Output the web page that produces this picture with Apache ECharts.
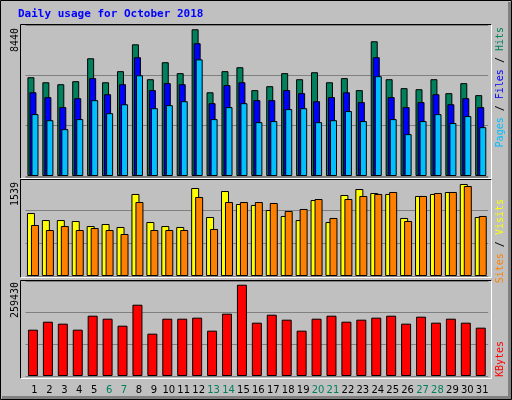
<!DOCTYPE html>
<html><head><meta charset="utf-8">
<script src="https://cdn.jsdelivr.net/npm/echarts@6/dist/echarts.min.js"></script>
<style>html,body{margin:0;padding:0;background:#c0c0c0}#c{width:512px;height:400px}</style>
</head><body><div id="c"></div>
<script>
const days = ['1','2','3','4','5','6','7','8','9','10','11','12','13','14','15','16','17','18','19','20','21','22','23','24','25','26','27','28','29','30','31'];
const weekend = ['6','7','13','14','20','21','27','28'];
const hits = [5520,5240,5130,5300,6580,5240,5860,7360,5410,6360,5750,8200,4680,5860,6080,4800,5020,5750,5410,5800,5240,5470,4800,7530,5410,4910,4850,5410,4630,5190,4520];
const files = [4680,4410,3850,4350,5470,4570,5130,6640,4800,5190,5130,7420,4070,5080,5240,4240,4240,4800,4630,4180,4410,4680,4130,6640,4410,3850,4130,4570,4010,4350,3850];
const pages = [3460,3120,2620,3180,4240,3510,4010,5630,3790,3960,4180,6520,3180,3850,4070,3010,3070,3740,3790,3010,3120,3630,3070,5580,3180,2340,3070,3460,2960,3350,2730];
const visits = [979,870,870,855,777,808,762,1275,839,777,762,1368,917,1321,1119,1104,1026,933,870,1181,839,1259,1352,1290,1275,902,1244,1275,1306,1430,917];
const sites = [793,715,777,715,746,715,653,1150,715,715,715,1228,731,1150,1150,1150,1135,1010,1042,1197,902,1197,1244,1275,1306,855,1244,1290,1306,1399,933];
const kbytes = [126500,148300,142900,126500,164700,156500,137400,194700,115600,156500,156500,159300,123800,170200,249300,145600,167400,153800,123800,156500,164700,148300,153800,159300,164700,142900,162000,145600,156500,145600,132000];
const maxLabels = ['8440','1539','259430'];
const axisMax = [8440, 1539, 259430];

const chart = echarts.init(document.getElementById('c'));
const L = 25.5, W = 462.7;
const grids = [{left:L,width:W,top:25,height:151},{left:L,width:W,top:177,height:99},{left:L,width:W,top:281,height:95}];
const mono = 'DejaVu Sans Mono';
function xa(i){
  return {type:'category',data:days,gridIndex:i,axisLine:{show:false},axisTick:{show:false},
    axisLabel:{show:i===2,interval:0,fontFamily:'DejaVu Sans',fontSize:10,margin:9,padding:[0,0,0,3],
      color:(v)=>weekend.includes(v)?'#00805c':'#000'}};
}
function ya(i){
  return {type:'value',gridIndex:i,min:0,max:axisMax[i],interval:axisMax[i]/3,axisLabel:{show:false},
    axisLine:{show:false},axisTick:{show:false},splitLine:{show:true,lineStyle:{color:'#808080',width:1}}};
}
function bar(name,data,color,gi,w,gap){
  return {name,type:'bar',data,xAxisIndex:gi,yAxisIndex:gi,barWidth:w,barGap:gap,animation:false,
    itemStyle:{color,borderColor:'#000',borderWidth:1}};
}
function frame(x,y,w,h){
  return [
    {type:'line',shape:{x1:x,y1:y,x2:x+w,y2:y},style:{stroke:'#000',lineWidth:1}},
    {type:'line',shape:{x1:x,y1:y,x2:x,y2:y+h},style:{stroke:'#000',lineWidth:1}},
    {type:'line',shape:{x1:x,y1:y+h,x2:x+w,y2:y+h},style:{stroke:'#fff',lineWidth:1}},
    {type:'line',shape:{x1:x+w,y1:y,x2:x+w,y2:y+h},style:{stroke:'#fff',lineWidth:1}}
  ];
}
function vtext(x,y,text,rich,color){
  return {type:'text',x,y,rotation:Math.PI/2,style:{text,fill:color||'#000',font:'10px '+mono,align:'right',verticalAlign:'middle',rich}};
}
const graphic = [
  {type:'rect',shape:{x:0.5,y:0.5,width:511,height:399},style:{fill:'none',stroke:'#000',lineWidth:1},z:-1},
  {type:'line',shape:{x1:2,y1:397.5,x2:511,y2:397.5},style:{stroke:'#808080',lineWidth:3}},
  {type:'line',shape:{x1:509.5,y1:2,x2:509.5,y2:399},style:{stroke:'#808080',lineWidth:3}},
  {type:'text',x:18,y:14,style:{text:'Daily usage for October 2018',fill:'#0000ff',font:'bold 11px '+mono,verticalAlign:'middle'}},
  ...frame(20.5,24.5,471,154),...frame(20.5,179.5,471,98),...frame(20.5,280.5,471,98),
  vtext(15,28,maxLabels[0]),vtext(15,182,maxLabels[1]),vtext(15,282,maxLabels[2]),
  vtext(500,27,'{p|Pages} / {f|Files} / {h|Hits}',{p:{fill:'#00c0ff',font:'10px '+mono},f:{fill:'#0000ff',font:'10px '+mono},h:{fill:'#00805c',font:'10px '+mono}}),
  vtext(500,199,'{s|Sites} / {v|Visits}',{s:{fill:'#ff8000',font:'10px '+mono},v:{fill:'#ffff00',font:'10px '+mono}}),
  vtext(500,341,'KBytes',null,'#ff0000')
];
chart.setOption({
  backgroundColor:'#c0c0c0',animation:false,
  grid:grids,xAxis:[xa(0),xa(1),xa(2)],yAxis:[ya(0),ya(1),ya(2)],
  series:[
    bar('Hits',hits,'#00805c',0,7,'-71%'),bar('Files',files,'#0000ff',0,7,'-71%'),bar('Pages',pages,'#00c0ff',0,7,'-71%'),
    bar('Visits',visits,'#ffff00',1,8,'-50%'),bar('Sites',sites,'#ff8000',1,8,'-50%'),
    bar('KBytes',kbytes,'#ff0000',2,10,'0%')
  ],
  graphic
});
</script></body></html>
